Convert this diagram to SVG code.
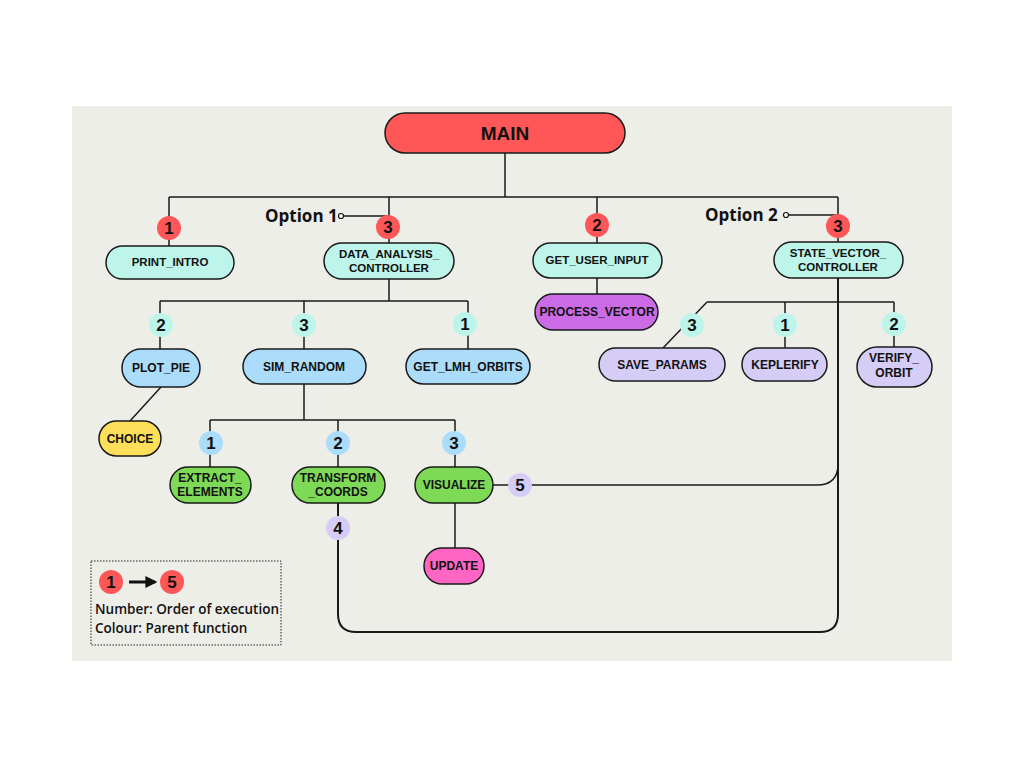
<svg xmlns="http://www.w3.org/2000/svg" width="1024" height="768" viewBox="0 0 1024 768">
<defs>
<style>
.n{stroke:#1a1a1a;stroke-width:1.5}
.t{font-family:"Liberation Sans",Arial,sans-serif;font-weight:bold;font-size:12px;fill:#111;text-anchor:middle}
.tn{font-family:"Liberation Sans",Arial,sans-serif;font-weight:bold;font-size:11.5px;fill:#111;text-anchor:middle}
.b{font-family:"Liberation Sans",Arial,sans-serif;font-weight:bold;font-size:17px;fill:#111;text-anchor:middle}
.l{fill:none;stroke:#1a1a1a;stroke-width:1.5}
.red{fill:#FF5757}.cy{fill:#BDF5EA}.bl{fill:#ABDDFB}.gr{fill:#7ED957}.lv{fill:#D5CDF6}.pu{fill:#CB6CE6}.ye{fill:#FFDE59}.pk{fill:#FF66C4}
.opt{font-family:"Open Sans","Liberation Sans",sans-serif;font-weight:bold;font-size:17px;fill:#111}
.leg{font-family:"Open Sans","Liberation Sans",sans-serif;font-weight:600;font-size:13.5px;fill:#111}
</style>
<marker id="ar" viewBox="0 0 10 10" refX="8" refY="5" markerWidth="4" markerHeight="4" orient="auto"><path d="M0,0 L10,5 L0,10 z" fill="#111"/></marker>
</defs>
<rect x="0" y="0" width="1024" height="768" fill="#ffffff"/>
<rect x="72" y="106" width="880" height="555" fill="#EEEEE9"/>

<g id="connectors">
<path class="l" d="M505,153 V197 M169,197 H838 M169,197 V246 M389,197 V243 M597,197 V243 M838,197 V243"/>
<path class="l" d="M341,216 H389 M786,215 H838"/>
<path class="l" d="M389,278 V301 M160,301 H468 M160,301 V349 M304,301 V349 M468,301 V349"/>
<path class="l" d="M161,387 L130,421"/>
<path class="l" d="M304,384 V420 M210,420 H455 M210,420 V467 M338,420 V467 M455,420 V467"/>
<path class="l" d="M455,503 V548"/>
<path class="l" d="M597,278 V294"/>
<path class="l" d="M493,485 H817 Q838,485 838,464"/>
<path class="l" style="stroke-width:2" d="M838,278 V614 Q838,632 820,632 H356 Q338,632 338,614 V503"/>
<path class="l" d="M707,302 H894 M707,302 L663,348 M785,302 V348 M894,302 V347"/>
</g>

<g id="main"><rect class="n red" x="385" y="113" width="240" height="40" rx="20"/><text class="tn" x="505" y="140" style="font-size:19px">MAIN</text></g>

<g id="opt1"><text class="opt" x="265" y="222">Option 1</text><circle cx="341" cy="216" r="2.5" fill="#fff" stroke="#111" stroke-width="1.2"/></g>
<g id="opt2"><text class="opt" x="705" y="221">Option 2</text><circle cx="786" cy="215" r="2.5" fill="#fff" stroke="#111" stroke-width="1.2"/></g>

<g id="b-print"><circle class="red" cx="169" cy="228" r="12"/><text class="b" x="169" y="234">1</text></g>
<g id="b-data"><circle class="red" cx="388" cy="227" r="12"/><text class="b" x="388" y="233">3</text></g>
<g id="b-get"><circle class="red" cx="597" cy="225" r="12"/><text class="b" x="597" y="231">2</text></g>
<g id="b-state"><circle class="red" cx="838" cy="226" r="12"/><text class="b" x="838" y="232">3</text></g>

<g id="print_intro"><rect class="n cy" x="106" y="246" width="128" height="33" rx="16.5"/><text class="tn" x="170" y="266">PRINT_INTRO</text></g>
<g id="data_analysis"><rect class="n cy" x="324" y="243" width="130" height="36" rx="18"/><text class="tn" x="389" y="258">DATA_ANALYSIS_</text><text class="tn" x="389" y="272">CONTROLLER</text></g>
<g id="get_user_input"><rect class="n cy" x="533" y="243" width="129" height="35" rx="17.5"/><text class="tn" x="597" y="264">GET_USER_INPUT</text></g>
<g id="state_vector"><rect class="n cy" x="774" y="242" width="129" height="36" rx="18"/><text class="tn" x="838" y="257">STATE_VECTOR_</text><text class="tn" x="838" y="271">CONTROLLER</text></g>

<g id="process_vector"><rect class="n pu" x="535" y="294" width="123" height="36" rx="18"/><text class="t" x="597" y="316">PROCESS_VECTOR</text></g>

<g id="b-plot"><circle class="cy" cx="161" cy="325" r="12"/><text class="b" x="161" y="331">2</text></g>
<g id="b-sim"><circle class="cy" cx="304" cy="325" r="12"/><text class="b" x="304" y="331">3</text></g>
<g id="b-lmh"><circle class="cy" cx="465" cy="324" r="12"/><text class="b" x="465" y="330">1</text></g>

<g id="plot_pie"><rect class="n bl" x="122" y="349" width="78" height="38" rx="19"/><text class="t" x="161" y="372">PLOT_PIE</text></g>
<g id="sim_random"><rect class="n bl" x="243" y="349" width="123" height="35" rx="17.5"/><text class="t" x="304" y="371">SIM_RANDOM</text></g>
<g id="get_lmh"><rect class="n bl" x="406" y="349" width="124" height="35" rx="17.5"/><text class="t" x="468" y="371">GET_LMH_ORBITS</text></g>

<g id="choice"><rect class="n ye" x="99" y="421" width="62" height="35" rx="17.5"/><text class="t" x="130" y="443">CHOICE</text></g>

<g id="b-ext"><circle class="bl" cx="211" cy="443" r="12"/><text class="b" x="211" y="449">1</text></g>
<g id="b-tr"><circle class="bl" cx="338" cy="443" r="12"/><text class="b" x="338" y="449">2</text></g>
<g id="b-vis"><circle class="bl" cx="454" cy="443" r="12"/><text class="b" x="454" y="449">3</text></g>

<g id="extract"><rect class="n gr" x="170" y="467" width="81" height="36" rx="18"/><text class="t" x="210" y="482">EXTRACT_</text><text class="t" x="210" y="496">ELEMENTS</text></g>
<g id="transform"><rect class="n gr" x="292" y="467" width="93" height="36" rx="18"/><text class="t" x="338" y="482">TRANSFORM</text><text class="t" x="338" y="496">_COORDS</text></g>
<g id="visualize"><rect class="n gr" x="415" y="467" width="78" height="36" rx="18"/><text class="t" x="454" y="489">VISUALIZE</text></g>

<g id="b-5"><circle class="lv" cx="520" cy="485" r="12"/><text class="b" x="520" y="491">5</text></g>
<g id="b-4"><circle class="lv" cx="338" cy="528" r="12"/><text class="b" x="338" y="534">4</text></g>

<g id="update"><rect class="n pk" x="424" y="548" width="60" height="36" rx="18"/><text class="t" x="454" y="570">UPDATE</text></g>

<g id="b-save"><circle class="cy" cx="692" cy="325" r="12"/><text class="b" x="692" y="331">3</text></g>
<g id="b-kep"><circle class="cy" cx="785" cy="325" r="12"/><text class="b" x="785" y="331">1</text></g>
<g id="b-ver"><circle class="cy" cx="894" cy="324" r="12"/><text class="b" x="894" y="330">2</text></g>

<g id="save_params"><rect class="n lv" x="599" y="348" width="126" height="33" rx="16.5"/><text class="t" x="662" y="369">SAVE_PARAMS</text></g>
<g id="keplerify"><rect class="n lv" x="742" y="348" width="85" height="33" rx="16.5"/><text class="t" x="785" y="369">KEPLERIFY</text></g>
<g id="verify_orbit"><rect class="n lv" x="857" y="347" width="75" height="40" rx="20"/><text class="t" x="894" y="362">VERIFY_</text><text class="t" x="894" y="377">ORBIT</text></g>

<g id="legend">
<rect x="91" y="561" width="190" height="84" fill="none" stroke="#222" stroke-width="1" stroke-dasharray="1.5,1.5"/>
<circle class="red" cx="111" cy="582" r="12"/><text class="b" x="111" y="588">1</text>
<circle class="red" cx="172" cy="582" r="12"/><text class="b" x="172" y="588">5</text>
<line x1="129" y1="582" x2="155" y2="582" stroke="#111" stroke-width="3" marker-end="url(#ar)"/>
<text class="leg" x="95" y="614">Number: Order of execution</text>
<text class="leg" x="95" y="633">Colour: Parent function</text>
</g>
</svg>
